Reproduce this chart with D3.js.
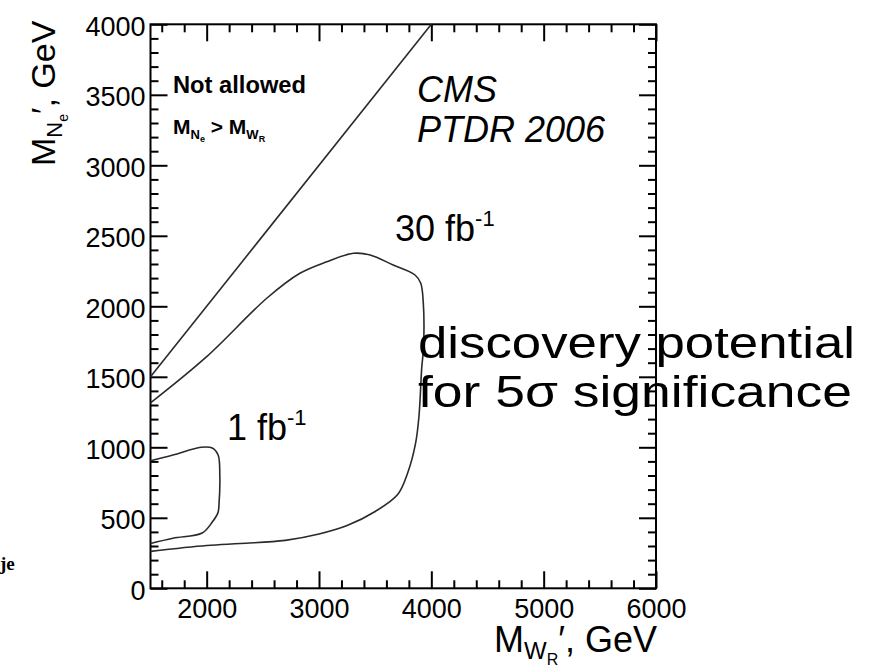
<!DOCTYPE html>
<html>
<head>
<meta charset="utf-8">
<script src="https://cdn.jsdelivr.net/npm/d3@7"></script>
<style>
  body { margin: 0; background: #fff; }
  svg { display: block; }
  text { font-family: "Liberation Sans", Arial, Helvetica, sans-serif; fill: #000; }
</style>
</head>
<body>
<svg id="chart" width="880" height="669"></svg>
<script>
// Axis ranges and tick values (GeV)
const xDomain = [1500, 6000];
const yDomain = [0, 4000];
const xMajorTicks = [2000, 3000, 4000, 5000, 6000];
const xMinorTicks = d3.range(1600, 6000, 200).filter(v => v % 1000 !== 0);
const yMajorTicks = [0, 500, 1000, 1500, 2000, 2500, 3000, 3500, 4000];
const yMinorTicks = d3.range(100, 4000, 100).filter(v => v % 500 !== 0);

// Kinematic limit M_N = M_W
const kinematicLimit = [[1500, 1500], [4000, 4000]];

// 5 sigma discovery contour, 30 fb^-1 (M_W, M_N)
const contour30 = [
  [1500, 1315], [2000, 1643], [2535, 2057], [2830, 2234], [3070, 2316],
  [3306, 2376], [3455, 2364], [3660, 2293], [3855, 2222], [3905, 2165],
  [3928, 2030], [3930, 1700], [3915, 1570], [3890, 1220], [3860, 1030],
  [3790, 820], [3700, 665], [3500, 545], [3250, 445], [3000, 385],
  [2700, 340], [2300, 318], [2000, 303], [1500, 262]
];

// 5 sigma discovery contour, 1 fb^-1 (M_W, M_N)
const contour1 = [
  [1500, 905], [1700, 945], [1950, 1000], [2050, 995], [2102, 945],
  [2117, 800], [2110, 600], [2100, 535], [2050, 470], [1960, 392],
  [1700, 355], [1500, 318]
];

const svg = d3.select("#chart");
const x = d3.scaleLinear().domain(xDomain).range([150.5, 656]);
const y = d3.scaleLinear().domain(yDomain).range([588.3, 24.3]);
const x0 = x.range()[0], x1 = x.range()[1];
const y0 = y.range()[0], y1 = y.range()[1];

const tickFont = "27px";

// Axes: inward ticks on all four sides
function styleAxis(g) {
  g.select(".domain").remove();
  g.selectAll(".tick line").attr("stroke", "#000").attr("stroke-width", 2);
  g.selectAll(".tick text").attr("fill", "#2a2a2a").style("font-size", tickFont);
}

svg.append("g").attr("transform", `translate(0,${y0})`)
  .call(d3.axisBottom(x).tickValues(xMajorTicks).tickSize(-17).tickSizeOuter(0).tickPadding(11).tickFormat(d3.format("d")))
  .call(styleAxis);
svg.append("g").attr("transform", `translate(0,${y0})`)
  .call(d3.axisBottom(x).tickValues(xMinorTicks).tickSize(-8).tickSizeOuter(0).tickFormat(""))
  .call(styleAxis);
svg.append("g").attr("transform", `translate(0,${y1})`)
  .call(d3.axisTop(x).tickValues(xMajorTicks).tickSize(-17).tickSizeOuter(0).tickFormat(""))
  .call(styleAxis);
svg.append("g").attr("transform", `translate(0,${y1})`)
  .call(d3.axisTop(x).tickValues(xMinorTicks).tickSize(-8).tickSizeOuter(0).tickFormat(""))
  .call(styleAxis);

const yLeft = svg.append("g").attr("transform", `translate(${x0},0)`)
  .call(d3.axisLeft(y).tickValues(yMajorTicks).tickSize(-17).tickSizeOuter(0).tickPadding(5).tickFormat(d3.format("d")))
  .call(styleAxis);
yLeft.selectAll(".tick text").attr("dy", "0.4em");
svg.append("g").attr("transform", `translate(${x0},0)`)
  .call(d3.axisLeft(y).tickValues(yMinorTicks).tickSize(-8).tickSizeOuter(0).tickFormat(""))
  .call(styleAxis);
svg.append("g").attr("transform", `translate(${x1},0)`)
  .call(d3.axisRight(y).tickValues(yMajorTicks).tickSize(-17).tickSizeOuter(0).tickFormat(""))
  .call(styleAxis);
svg.append("g").attr("transform", `translate(${x1},0)`)
  .call(d3.axisRight(y).tickValues(yMinorTicks).tickSize(-8).tickSizeOuter(0).tickFormat(""))
  .call(styleAxis);

// Frame
svg.append("rect")
  .attr("x", x0).attr("y", y1)
  .attr("width", x1 - x0).attr("height", y0 - y1)
  .attr("fill", "none").attr("stroke", "#000").attr("stroke-width", 2);

// Curves
const line = d3.line().x(d => x(d[0])).y(d => y(d[1]));
const smooth = d3.line().x(d => x(d[0])).y(d => y(d[1])).curve(d3.curveCatmullRom.alpha(0.5));

svg.append("path").datum(kinematicLimit).attr("d", line)
  .attr("fill", "none").attr("stroke", "#2a2a2a").attr("stroke-width", 1.6);
svg.append("path").datum(contour30).attr("d", smooth)
  .attr("fill", "none").attr("stroke", "#2a2a2a").attr("stroke-width", 1.6);
svg.append("path").datum(contour1).attr("d", smooth)
  .attr("fill", "none").attr("stroke", "#2a2a2a").attr("stroke-width", 1.6);

// Axis titles
const xt = svg.append("text").attr("x", 657).attr("y", 652)
  .attr("text-anchor", "end").style("font-size", "36px");
xt.append("tspan").text("M");
xt.append("tspan").attr("dy", 7).style("font-size", "24px").text("W");
xt.append("tspan").attr("dy", 6).style("font-size", "16px").text("R");
xt.append("tspan").attr("dy", -13).text("\u2032, GeV");

const yt = svg.append("text")
  .attr("transform", "translate(55,166) rotate(-90)")
  .style("font-size", "34px");
yt.append("tspan").text("M");
yt.append("tspan").attr("dy", 7).style("font-size", "22px").text("N");
yt.append("tspan").attr("dy", 6).style("font-size", "14px").text("e");
yt.append("tspan").attr("dy", -13).text("\u2032, GeV");

// Annotations
svg.append("text").attr("x", 173).attr("y", 93)
  .style("font-size", "23px").style("font-weight", "bold")
  .attr("textLength", 133).attr("lengthAdjust", "spacingAndGlyphs")
  .text("Not allowed");
const ineq = svg.append("text").attr("x", 173).attr("y", 134)
  .style("font-size", "21px").style("font-weight", "bold");
ineq.append("tspan").text("M");
ineq.append("tspan").attr("dy", 5).style("font-size", "13px").text("N");
ineq.append("tspan").attr("dy", 3).style("font-size", "9px").text("e");
ineq.append("tspan").attr("dy", -8).text(" > M");
ineq.append("tspan").attr("dy", 5).style("font-size", "13px").text("W");
ineq.append("tspan").attr("dy", 3).style("font-size", "9px").text("R");

svg.append("text").attr("x", 417).attr("y", 102)
  .style("font-size", "36px").style("font-style", "italic").text("CMS");
svg.append("text").attr("x", 417).attr("y", 142)
  .style("font-size", "36px").style("font-style", "italic").text("PTDR 2006");

const l30 = svg.append("text").attr("x", 395).attr("y", 241).style("font-size", "36px");
l30.append("tspan").text("30 fb");
l30.append("tspan").attr("dy", -15).style("font-size", "22px").text("-1");

const l1 = svg.append("text").attr("x", 227).attr("y", 440).style("font-size", "36px");
l1.append("tspan").text("1 fb");
l1.append("tspan").attr("dy", -15).style("font-size", "22px").text("-1");

svg.append("text").attr("x", 418).attr("y", 358)
  .style("font-size", "44px")
  .attr("textLength", 437).attr("lengthAdjust", "spacingAndGlyphs")
  .text("discovery potential");
svg.append("text").attr("x", 418).attr("y", 407)
  .style("font-size", "44px")
  .attr("textLength", 434).attr("lengthAdjust", "spacingAndGlyphs")
  .text("for 5\u03c3 significance");

svg.append("text").attr("x", 0).attr("y", 570)
  .style("font-family", "'Liberation Serif', 'DejaVu Serif', serif")
  .style("font-size", "19px").style("font-weight", "bold").text("je");
</script>
</body>
</html>
